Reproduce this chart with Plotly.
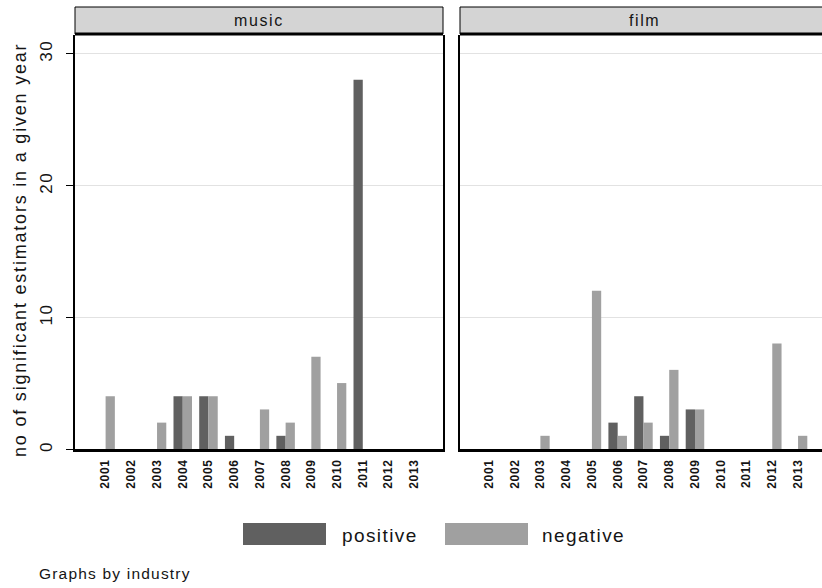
import plotly.graph_objects as go

# Counts of significant estimators per year, by industry and sign
years = list(range(2001, 2014))
year_labels = [str(y) for y in years]
music_positive = [0, 0, 0, 4, 4, 1, 0, 1, 0, 0, 28, 0, 0]
music_negative = [4, 0, 2, 4, 4, 0, 3, 2, 7, 5, 0, 0, 0]
film_positive = [0, 0, 0, 0, 0, 2, 4, 1, 3, 0, 0, 0, 0]
film_negative = [0, 0, 1, 0, 12, 1, 2, 6, 3, 0, 0, 8, 1]
panels = ["music", "film"]
series_names = ["positive", "negative"]
y_ticks = [0, 10, 20, 30]

DARK = "#606060"
LIGHT = "#a0a0a0"
FONT = "Liberation Sans, Arial, sans-serif"
INK = "#141414"

W, H = 822, 588
ML, MR, MT, MB = 75, 0, 35, 139
PW = W - ML - MR
PH = H - MT - MB


def px_x(px):
    return (px - ML) / PW


def px_y(py):
    return (H - MB - py) / PH


def spaced(text, ls):
    """Wrap text in a span with extra letter spacing (px)."""
    return f'<span style="letter-spacing:{ls}px">{text}</span>'


fig = go.Figure()
for col, (pos, neg) in enumerate([(music_positive, music_negative),
                                  (film_positive, film_negative)]):
    xa = "x" if col == 0 else "x2"
    ya = "y" if col == 0 else "y2"
    fig.add_trace(go.Bar(x=years, y=pos, name=series_names[0], marker_color=DARK,
                         marker_line_width=0, xaxis=xa, yaxis=ya, offsetgroup="p",
                         showlegend=False))
    fig.add_trace(go.Bar(x=years, y=neg, name=series_names[1], marker_color=LIGHT,
                         marker_line_width=0, xaxis=xa, yaxis=ya, offsetgroup="n",
                         showlegend=False))

xcommon = dict(tickvals=years, ticktext=[spaced(f"<b>{t}</b>", 0.6) for t in year_labels],
               tickangle=-90,
               tickfont=dict(family=FONT, size=12, color=INK),
               showgrid=False, zeroline=False, showline=True, linecolor="black",
               linewidth=2.5, ticks="", ticklabelstandoff=3, fixedrange=True)

fig.update_layout(
    width=W, height=H,
    margin=dict(l=ML, r=MR, t=MT, b=MB),
    paper_bgcolor="white", plot_bgcolor="white",
    barmode="group", bargap=0.28, bargroupgap=0,
    showlegend=False,
    xaxis=dict(domain=[0, px_x(443)], range=[2001 - 1.19, 2013 + 1.12], anchor="y", **xcommon),
    xaxis2=dict(domain=[px_x(460), 1], range=[2001 - 1.12, 2013 + 0.93], anchor="y2", **xcommon),
    yaxis=dict(range=[0, 31.39], tickvals=y_ticks,
               ticktext=[spaced(str(v), 1.5) for v in y_ticks], tickangle=-90,
               tickfont=dict(family=FONT, size=17, color=INK),
               ticks="outside", ticklen=7, tickcolor="black", tickwidth=1,
               ticklabelstandoff=7,
               showgrid=True, gridcolor="#e2e2e2", gridwidth=1, zeroline=False,
               showline=True, linecolor="black", linewidth=1.5, mirror=True,
               anchor="x", fixedrange=True),
    yaxis2=dict(range=[0, 31.39], tickvals=y_ticks, showticklabels=False, ticks="",
                showgrid=True, gridcolor="#e2e2e2", gridwidth=1, zeroline=False,
                showline=True, linecolor="black", linewidth=1.5,
                anchor="x2", matches="y", fixedrange=True),
)

shapes = []
annotations = []
# Panel header strips
for i, name in enumerate(panels):
    xref = "x domain" if i == 0 else "x2 domain"
    x1 = 1 if i == 0 else 1.05
    shapes.append(dict(type="rect", xref=xref, yref="paper", x0=0, x1=x1,
                       y0=px_y(34), y1=px_y(7), fillcolor="#d4d4d4",
                       line=dict(color="black", width=1), layer="above"))
    shapes.append(dict(type="line", xref=xref, yref="paper", x0=0, x1=x1,
                       y0=px_y(34), y1=px_y(34), line=dict(color="black", width=3),
                       layer="above"))
    cx = 0.5 if i == 0 else 0.5 * (828 - 460) / (822 - 460)
    annotations.append(dict(text=spaced(name, 1.6), xref=xref, yref="paper", x=cx,
                            y=px_y(20), showarrow=False, xanchor="center", yanchor="middle",
                            font=dict(family=FONT, size=16, color=INK)))

# Y axis title
annotations.append(dict(text=spaced("no of significant estimators in a given year", 1.8),
                        textangle=-90, xref="paper", yref="paper", x=px_x(20), y=px_y(250),
                        showarrow=False, xanchor="center", yanchor="middle",
                        font=dict(family=FONT, size=18, color=INK)))

# Legend keys
legend_items = [(series_names[0], DARK, 243, 326, 340), (series_names[1], LIGHT, 445, 528, 540)]
for label, color, bx0, bx1, tx in legend_items:
    shapes.append(dict(type="rect", xref="paper", yref="paper", x0=px_x(bx0), x1=px_x(bx1),
                       y0=px_y(545), y1=px_y(523), fillcolor=color,
                       line=dict(color=color, width=0)))
    annotations.append(dict(text=spaced(label, 1.4), xref="paper", yref="paper",
                            x=px_x(tx), y=px_y(535), showarrow=False, xanchor="left",
                            yanchor="middle", font=dict(family=FONT, size=19, color=INK)))

# Note
annotations.append(dict(text=spaced("Graphs by industry", 1.2), xref="paper", yref="paper",
                        x=px_x(37), y=px_y(573), showarrow=False, xanchor="left",
                        yanchor="middle", font=dict(family=FONT, size=15.5, color=INK)))

fig.update_layout(shapes=shapes, annotations=annotations)
fig.write_html("out.html")
